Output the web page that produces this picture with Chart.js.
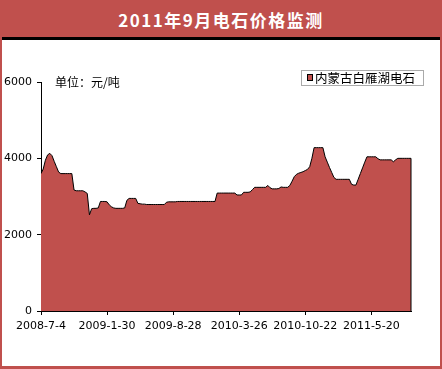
<!DOCTYPE html>
<html>
<head>
<meta charset="utf-8">
<script src="https://cdn.jsdelivr.net/npm/chart.js@4.4.0/dist/chart.umd.min.js"></script>
<style>
  body { margin: 0; background: #fff; }
  #chart { position: absolute; left: 0; top: 0; }
  #title {
    position: absolute; left: 0; top: 0; width: 442px; height: 37px;
    background: #C0504D; border-bottom: 3px solid #000;
    color: #fff; font: bold 17px "Noto Sans CJK SC", sans-serif;
    letter-spacing: 1.5px; text-align: center; line-height: 39px;
  }
  #frame {
    position: absolute; left: 0; top: 0; width: 442px; height: 369px;
    box-sizing: border-box; border: 2px solid #C0504D; border-bottom-width: 3px;
    pointer-events: none;
  }
</style>
</head>
<body>
<canvas id="chart" width="442" height="369"></canvas>
<div id="title">2011年9月电石价格监测</div>
<div id="frame"></div>
<script>
// weekly prices, first week 2008-7-4
const seriesName = "内蒙古白雁湖电石";
const unitLabel = "单位：元/吨";
const xTickLabels = ["2008-7-4", "2009-1-30", "2009-8-28", "2010-3-26", "2010-10-22", "2011-5-20"];
const weeksPerTick = 30;
const prices = [
  3600, 3720, 3950, 4090, 4130, 4070, 3920, 3780, 3640, 3600,
  3600, 3600, 3600, 3600, 3600, 3170, 3150, 3150, 3150, 3150,
  3120, 3080, 2520, 2680, 2690, 2690, 2700, 2870, 2870, 2870,
  2860, 2780, 2730, 2700, 2690, 2690, 2690, 2690, 2700, 2900,
  2950, 2950, 2950, 2950, 2820, 2810, 2800, 2800, 2790, 2790,
  2790, 2790, 2790, 2790, 2790, 2790, 2790, 2850, 2860, 2860,
  2860, 2860, 2870, 2870, 2870, 2870, 2870, 2870, 2870, 2870,
  2870, 2870, 2870, 2870, 2870, 2870, 2870, 2870, 2870, 2870,
  3090, 3090, 3090, 3090, 3090, 3090, 3090, 3090, 3090, 3040,
  3040, 3040, 3110, 3110, 3110, 3120, 3180, 3240, 3240, 3240,
  3240, 3240, 3240, 3290, 3230, 3200, 3200, 3200, 3210, 3250,
  3240, 3240, 3240, 3290, 3400, 3520, 3580, 3610, 3630, 3650,
  3680, 3710, 3780, 4000, 4280, 4280, 4280, 4280, 4280, 4040,
  3900, 3760, 3630, 3500, 3450, 3450, 3450, 3450, 3450, 3450,
  3450, 3320, 3300, 3300, 3450, 3600, 3750, 3900, 4040, 4040,
  4040, 4040, 4040, 3990, 3960, 3960, 3960, 3960, 3960, 3960,
  3910, 3960, 4000, 4000, 4000, 4000, 4000, 4000, 4000
];
const yMax = 6000;
const yStep = 2000;

const fillColor = "#C0504D";
const tickFont = { family: "DejaVu Sans", size: 11 };

// right edge of the area, unit note and legend
const extras = {
  id: "extras",
  afterDatasetsDraw(chart) {
    const { ctx, chartArea } = chart;
    const pts = chart.getDatasetMeta(0).data;
    const last = pts[pts.length - 1];
    ctx.save();
    ctx.strokeStyle = "#000";
    ctx.lineWidth = 1;
    ctx.beginPath();
    ctx.moveTo(last.x, last.y);
    ctx.lineTo(last.x, chartArea.bottom);
    ctx.stroke();

    ctx.fillStyle = "#000";
    ctx.textBaseline = "middle";
    ctx.font = '12px "Noto Sans CJK SC"';
    ctx.fillText(unitLabel, chartArea.left + 14, chartArea.top);

    // legend box
    ctx.fillStyle = "#fff";
    ctx.fillRect(301, 70, 122, 15);
    ctx.strokeStyle = "#aaa";
    ctx.strokeRect(301.5, 70.5, 122, 15);
    ctx.fillStyle = fillColor;
    ctx.fillRect(307, 74, 6, 7);
    ctx.strokeStyle = "#000";
    ctx.strokeRect(307.5, 74.5, 5, 6);
    ctx.fillStyle = "#000";
    ctx.font = '12.5px "Noto Sans CJK SC"';
    ctx.fillText(seriesName, 315, 78.5);
    ctx.restore();
  }
};

new Chart(document.getElementById("chart").getContext("2d"), {
  type: "line",
  data: {
    datasets: [{
      label: seriesName,
      data: prices.map((v, i) => ({ x: i, y: v })),
      backgroundColor: fillColor,
      borderColor: "#000",
      borderWidth: 1,
      fill: "origin",
      pointRadius: 0,
      tension: 0
    }]
  },
  options: {
    responsive: false,
    animation: false,
    layout: { padding: { top: 82, right: 31, bottom: 0, left: 0 } },
    plugins: { legend: { display: false }, tooltip: { enabled: false } },
    scales: {
      x: {
        type: "linear",
        min: 0,
        max: prices.length - 1,
        afterFit: s => { s.height = 58; },
        grid: { drawOnChartArea: false, color: "#000", tickLength: 4 },
        border: { color: "#000" },
        ticks: {
          stepSize: weeksPerTick,
          includeBounds: false,
          autoSkip: false,
          maxRotation: 0,
          padding: 5,
          color: "#000",
          font: tickFont,
          callback: v => xTickLabels[v / weeksPerTick]
        }
      },
      y: {
        min: 0,
        max: yMax,
        afterFit: s => { s.width = 41; },
        grid: { drawOnChartArea: false, color: "#000", tickLength: 4 },
        border: { color: "#000" },
        ticks: { stepSize: yStep, padding: 5, color: "#000", font: tickFont, callback: v => String(v) }
      }
    }
  },
  plugins: [extras]
});
</script>
</body>
</html>
